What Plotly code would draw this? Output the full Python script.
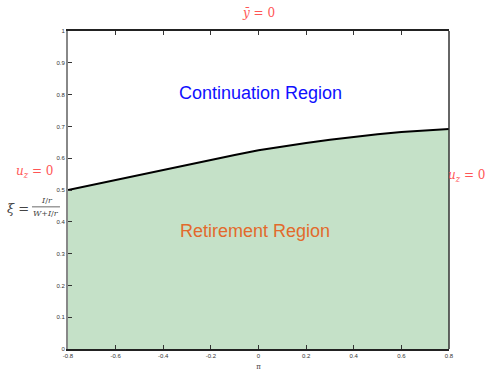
import plotly.graph_objects as go

pi_vals = [-0.8, -0.7, -0.6, -0.5, -0.4, -0.3, -0.2, -0.1, 0.0, 0.1, 0.2, 0.3, 0.4, 0.5, 0.6, 0.7, 0.8]
xi_vals = [0.500, 0.516, 0.531, 0.547, 0.562, 0.578, 0.594, 0.610, 0.625, 0.637, 0.648, 0.658, 0.667, 0.675, 0.682, 0.688, 0.692]
x_ticks = [-0.8, -0.6, -0.4, -0.2, 0, 0.2, 0.4, 0.6, 0.8]
x_ticktext = ["-0.8", "-0.6", "-0.4", "-0.2", "0", "0.2", "0.4", "0.6", "0.8"]
y_ticks = [0, 0.1, 0.2, 0.3, 0.4, 0.5, 0.6, 0.7, 0.8, 0.9, 1]
y_ticktext = ["0", "0.1", "0.2", "0.3", "0.4", "0.5", "0.6", "0.7", "0.8", "0.9", "1"]

fig = go.Figure()
fig.add_trace(go.Scatter(
    x=pi_vals, y=xi_vals, mode="lines",
    line=dict(color="black", width=2),
    fill="tozeroy", fillcolor="rgb(197,225,200)",
    showlegend=False, hoverinfo="skip",
))

red = "#ff5555"
math_font = dict(family="DejaVu Serif", size=12, color=red)
frac_font = dict(family="DejaVu Serif", size=8, color="#444")


def ann(x, y, text, font, yshift=0):
    return dict(x=x, y=y, xref="paper", yref="paper", text=text, showarrow=False,
                xanchor="center", yanchor="middle", yshift=yshift, font=font)


anns = [
    ann(0.5, 1.0, "<i>ȳ</i> = 0", math_font, yshift=18),
    ann(-0.087, 0.557, "<i>u<sub>z</sub></i> = 0", math_font),
    ann(1.045, 0.544, "<i>u<sub>z</sub></i> = 0", math_font),
    ann(0.504, 0.805, "Continuation Region",
        dict(family="Liberation Sans", size=18, color="#1010ff")),
    ann(0.491, 0.371, "Retirement Region",
        dict(family="Liberation Sans", size=18, color="#e26a2c")),
    ann(-0.131, 0.443, "<i>ξ</i> =", dict(family="DejaVu Serif", size=13, color="#444")),
    ann(-0.055, 0.468, "<i>I</i>/<i>r</i>", frac_font),
    ann(-0.058, 0.427, "<i>W</i>+<i>I</i>/<i>r</i>", frac_font),
]
fig.update_layout(
    width=485, height=373,
    margin=dict(l=68, r=36, t=31, b=24),
    paper_bgcolor="white", plot_bgcolor="white",
    annotations=anns,
    shapes=[
        dict(type="line", xref="paper", yref="paper", x0=-0.0945, x1=-0.021, y0=0.447, y1=0.447,
             line=dict(color="#444", width=0.8)),
        dict(type="line", xref="paper", yref="paper", x0=1, x1=1, y0=0, y1=1,
             line=dict(color="#333", width=1.5)),
    ],
    xaxis=dict(
        range=[-0.8, 0.8], tickvals=x_ticks, ticktext=x_ticktext,
        showgrid=False, zeroline=False, automargin=False,
        showline=True, linecolor="#222", linewidth=1.5, mirror="ticks",
        ticks="inside", ticklen=4, tickcolor="#333",
        tickfont=dict(family="Liberation Sans", size=6, color="#333"),
        title=dict(text="π", font=dict(family="DejaVu Serif", size=7, color="#333"), standoff=6),
    ),
    yaxis=dict(
        range=[0, 1], tickvals=y_ticks, ticktext=y_ticktext,
        showgrid=False, zeroline=False, automargin=False,
        showline=True, linecolor="#888", linewidth=2,
        ticks="inside", ticklen=4, tickcolor="#333",
        tickfont=dict(family="Liberation Sans", size=6, color="#333"),
    ),
)
fig.write_html("out.html", config={"displayModeBar": False},
               post_script="document.body.style.margin='0';")
